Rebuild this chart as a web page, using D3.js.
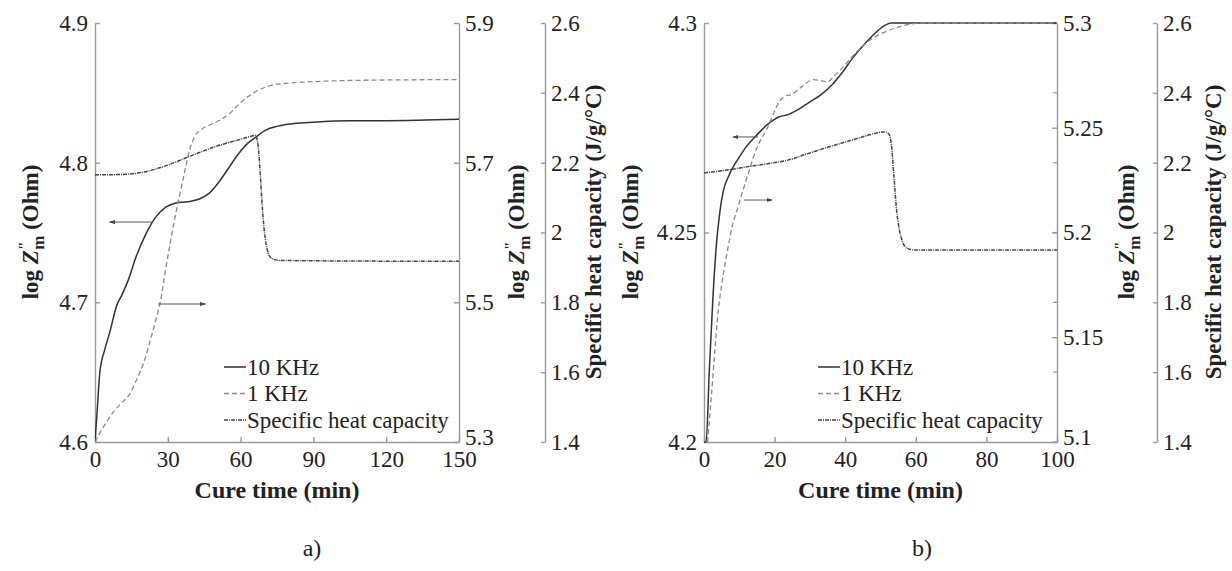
<!DOCTYPE html>
<html>
<head>
<meta charset="utf-8">
<script src="https://cdn.jsdelivr.net/npm/d3@7"></script>
<style>
  body { margin: 0; background: #fff; }
  svg { display: block; font-family: "Liberation Serif", "Times New Roman", serif; }
</style>
</head>
<body>
<svg id="chart" width="1232" height="571"></svg>
<script>
// panel a) data, cure time (min) vs value
const ticksTimeA = [0, 30, 60, 90, 120, 150];
const ticksZA = [4.6, 4.7, 4.8, 4.9];
const ticksZ2A = [5.3, 5.5, 5.7, 5.9];
const ticksCp = [1.4, 1.6, 1.8, 2, 2.2, 2.4, 2.6];

const a10k = [[0,4.6],[1,4.625],[2,4.65],[4,4.666],[6,4.678],[9,4.698],[11,4.705],[13.5,4.715],[17,4.733],[21,4.749],[25,4.761],[29,4.768],[33,4.771],[38,4.772],[43,4.774],[47,4.778],[51,4.786],[55,4.796],[59,4.806],[63,4.814],[66,4.818],[70,4.823],[75,4.826],[82,4.828],[90,4.829],[105,4.83],[120,4.83],[150,4.831]];
const a1k = [[0,5.3],[2,5.313],[5,5.33],[8,5.345],[11,5.356],[14,5.367],[17,5.388],[20,5.413],[23,5.448],[25,5.474],[27,5.502],[29,5.545],[31,5.585],[33,5.622],[35,5.655],[37,5.688],[39,5.718],[41,5.737],[44,5.748],[48,5.755],[52,5.762],[56,5.772],[60,5.786],[64,5.797],[68,5.805],[73,5.811],[80,5.814],[90,5.816],[110,5.818],[150,5.819]];
const aCp = [[0,2.165],[10,2.166],[20,2.173],[30,2.193],[40,2.221],[50,2.247],[60,2.267],[64,2.275],[66,2.278],[67,2.26],[67.8,2.2],[68.5,2.12],[69.3,2.04],[70.2,1.98],[71.5,1.94],[73,1.925],[76,1.92],[90,1.919],[120,1.918],[150,1.918]];

// panel b)
const ticksTimeB = [0, 20, 40, 60, 80, 100];
const ticksZB = [4.2, 4.25, 4.3];
const ticksZ2B = [5.1, 5.15, 5.2, 5.25, 5.3];

const b10k = [[0,4.2],[0.6,4.2],[1.5,4.217],[2.5,4.234],[3.5,4.247],[4.5,4.255],[5.5,4.26],[7,4.2635],[8.5,4.266],[10,4.268],[12,4.2705],[15,4.2733],[18,4.2758],[21,4.2775],[24,4.2782],[27,4.2795],[30,4.2812],[33,4.2828],[36,4.285],[39,4.288],[42,4.2915],[45,4.2945],[48,4.2972],[51,4.2993],[53,4.3],[100,4.3]];
const b1k = [[1,5.1],[2,5.12],[3,5.142],[4,5.162],[5,5.175],[6.5,5.19],[8,5.203],[9.6,5.212],[11,5.22],[12.5,5.228],[14,5.236],[16,5.244],[18,5.25],[20,5.258],[21.5,5.263],[23,5.265],[25,5.266],[28,5.27],[31,5.273],[33,5.2725],[35,5.272],[37,5.275],[40,5.28],[42,5.284],[45,5.289],[48,5.293],[51,5.2955],[54,5.2975],[57,5.299],[60,5.2998],[63,5.3],[100,5.3]];
const bCp = [[0,2.171],[6,2.178],[12,2.188],[18,2.197],[24,2.208],[30,2.228],[36,2.247],[42,2.265],[47,2.28],[50,2.287],[51.5,2.288],[52.5,2.28],[53.2,2.24],[53.8,2.16],[54.5,2.07],[55.3,2.01],[56.2,1.975],[57.5,1.955],[60,1.95],[80,1.95],[100,1.95]];

// arrows: [t0, t1, value, axis]
const arrowsA = [[24, 6, 4.7575, 'z'], [26, 45.5, 5.4976, 'z2']];
const arrowsB = [[15.3, 8.2, 4.2728, 'z'], [11.3, 19.3, 5.2155, 'z2']];

const legendNames = ['10 KHz', '1 KHz', 'Specific heat capacity'];

const svg = d3.select('#chart');
const yTop = 23, yBottom = 442;
const axisColor = '#9a9a9a';
const textColor = '#222';

svg.append('defs').append('marker')
	.attr('id', 'head')
	.attr('viewBox', '0 0 10 10')
	.attr('refX', 9).attr('refY', 5)
	.attr('markerWidth', 6).attr('markerHeight', 6)
	.attr('orient', 'auto-start-reverse')
	.append('path')
	.attr('d', 'M0,1.5L10,5L0,8.5z')
	.attr('fill', '#444');

const styles = [
	{ stroke: '#333', width: 1.5, dash: null },
	{ stroke: '#8a8a8a', width: 1.3, dash: '5,3' },
	{ stroke: '#444', width: 1.5, dash: '4,1,1,1' }
];

function yTitle(x, y, main) {
	let t = svg.append('text')
		.attr('transform', `translate(${x},${y}) rotate(-90)`)
		.attr('text-anchor', 'middle')
		.attr('font-weight', 'bold')
		.attr('font-size', 23)
		.attr('fill', textColor);
	if (main) {
		t.text(main);
		return;
	}
	t.append('tspan').text('log ');
	t.append('tspan').attr('font-style', 'italic').text('Z');
	t.append('tspan').attr('font-size', 15).attr('dy', -9).text('"');
	t.append('tspan').attr('font-size', 17).attr('dx', -8).attr('dy', 15).text('m');
	t.append('tspan').attr('dy', -6).text(' (Ohm)');
}

function styleAxis(g) {
	g.selectAll('path, line').attr('stroke', axisColor).attr('stroke-width', 1.4);
	g.selectAll('text').attr('fill', textColor).attr('font-size', 23)
		.attr('font-family', '"Liberation Serif", serif');
}

function panel(cfg) {
	let x = d3.scaleLinear().domain(cfg.xDomain).range([cfg.x0, cfg.x1]);
	let yZ = d3.scaleLinear().domain(cfg.zDomain).range([yBottom, yTop]);
	let yZ2 = d3.scaleLinear().domain(cfg.z2Domain).range([yBottom, yTop]);
	let yCp = d3.scaleLinear().domain([1.4, 2.6]).range([yBottom, yTop]);
	let fmt = d => String(d);

	svg.append('clipPath').attr('id', cfg.id)
		.append('rect')
		.attr('x', cfg.x0).attr('y', yTop - 2)
		.attr('width', cfg.x1 - cfg.x0).attr('height', yBottom - yTop + 4);

	// axes
	svg.append('g').attr('transform', `translate(0,${yBottom})`)
		.call(d3.axisBottom(x).tickValues(cfg.xTicks).tickFormat(fmt)
			.tickSizeInner(-5).tickSizeOuter(0).tickPadding(9))
		.call(styleAxis);
	svg.append('g').attr('transform', `translate(${cfg.x0},0)`)
		.call(d3.axisLeft(yZ).tickValues(cfg.zTicks).tickFormat(fmt)
			.tickSizeInner(-5).tickSizeOuter(0).tickPadding(7))
		.call(styleAxis);
	let right = svg.append('g').attr('transform', `translate(${cfg.x1},0)`)
		.call(d3.axisRight(yZ2).tickValues(cfg.z2Ticks).tickFormat(fmt)
			.tickSizeInner(-5).tickSizeOuter(0).tickPadding(6))
		.call(styleAxis);
	right.selectAll('.tick text').attr('dy', (d, i) => i === 0 ? '0.1em' : '0.32em');
	if (cfg.cpOnRight) {
		// heat-capacity ticks repeated on the inner right axis
		right.selectAll('.cp').data(ticksCp).enter().append('line')
			.attr('x1', 0).attr('x2', -4)
			.attr('y1', d => yCp(d)).attr('y2', d => yCp(d))
			.attr('stroke', axisColor).attr('stroke-width', 1.2);
	}
	svg.append('g').attr('transform', `translate(${cfg.x2},0)`)
		.call(d3.axisRight(yCp).tickValues(ticksCp).tickFormat(fmt)
			.tickSizeInner(-4).tickSizeOuter(0).tickPadding(6))
		.call(styleAxis);

	// titles
	svg.append('text')
		.attr('x', (cfg.x0 + cfg.x1) / 2).attr('y', 498)
		.attr('text-anchor', 'middle')
		.attr('font-weight', 'bold').attr('font-size', 24)
		.attr('fill', textColor)
		.text('Cure time (min)');
	yTitle(cfg.t0, 232);
	yTitle(cfg.t1, 232);
	yTitle(cfg.t2, 232, 'Specific heat capacity (J/g/°C)');
	svg.append('text')
		.attr('x', cfg.label[0]).attr('y', 556)
		.attr('text-anchor', 'middle').attr('font-size', 24)
		.attr('fill', textColor)
		.text(cfg.label[1]);

	// curves
	let plot = svg.append('g').attr('clip-path', `url(#${cfg.id})`);
	let series = [[cfg.z10, yZ], [cfg.z1, yZ2], [cfg.cp, yCp]];
	series.forEach((s, i) => {
		let line = d3.line()
			.x(d => x(d[0]))
			.y(d => s[1](d[1]))
			.curve(d3.curveMonotoneX);
		plot.append('path')
			.datum(s[0])
			.attr('d', line)
			.attr('fill', 'none')
			.attr('stroke', styles[i].stroke)
			.attr('stroke-width', styles[i].width)
			.attr('stroke-dasharray', styles[i].dash);
	});

	// arrows
	cfg.arrows.forEach(a => {
		let y = a[3] === 'z' ? yZ(a[2]) : yZ2(a[2]);
		svg.append('line')
			.attr('x1', x(a[0])).attr('x2', x(a[1]))
			.attr('y1', y).attr('y2', y)
			.attr('stroke', '#555').attr('stroke-width', 1)
			.attr('marker-end', 'url(#head)');
	});

	// legend
	let lg = svg.append('g');
	legendNames.forEach((name, i) => {
		let y = 367 + i * 26.5;
		lg.append('line')
			.attr('x1', cfg.legendX).attr('x2', cfg.legendX + 22)
			.attr('y1', y).attr('y2', y)
			.attr('stroke', styles[i].stroke)
			.attr('stroke-width', styles[i].width)
			.attr('stroke-dasharray', styles[i].dash);
		lg.append('text')
			.attr('x', cfg.legendX + 23).attr('y', y + 7.5)
			.attr('font-size', 23).attr('fill', textColor)
			.text(name);
	});
}

panel({
	id: 'clipA', xDomain: [0, 150], x0: 95, x1: 459, x2: 545,
	zDomain: [4.6, 4.9], z2Domain: [5.3, 5.9],
	xTicks: ticksTimeA, zTicks: ticksZA, z2Ticks: ticksZ2A,
	z10: a10k, z1: a1k, cp: aCp, arrows: arrowsA,
	t0: 38, t1: 524, t2: 601, legendX: 224, label: [312, 'a)'], cpOnRight: false
});

panel({
	id: 'clipB', xDomain: [0, 100], x0: 704, x1: 1057, x2: 1157,
	zDomain: [4.2, 4.3], z2Domain: [5.1, 5.3],
	xTicks: ticksTimeB, zTicks: ticksZB, z2Ticks: ticksZ2B,
	z10: b10k, z1: b1k, cp: bCp, arrows: arrowsB,
	t0: 638, t1: 1134, t2: 1221, legendX: 818, label: [922, 'b)'], cpOnRight: true
});
</script>
</body>
</html>
